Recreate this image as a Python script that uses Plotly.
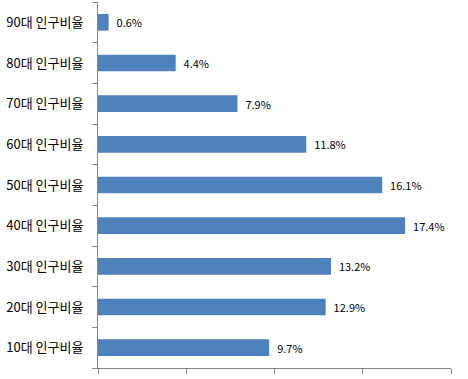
import plotly.graph_objects as go

categories = ["10대 인구비율", "20대 인구비율", "30대 인구비율", "40대 인구비율", "50대 인구비율",
              "60대 인구비율", "70대 인구비율", "80대 인구비율", "90대 인구비율"]
values = [9.7, 12.9, 13.2, 17.4, 16.1, 11.8, 7.9, 4.4, 0.6]

fig = go.Figure(go.Bar(
    x=values, y=categories, orientation="h",
    marker=dict(color="#4F81BD", line=dict(width=0)),
    width=0.41,
    texttemplate="  %{x:.1f}%", textposition="outside",
    textfont=dict(family="Noto Sans CJK KR", size=11, color="#000000"),
    cliponaxis=False,
))

fig.update_layout(
    width=468, height=379,
    margin=dict(l=98, r=17, t=2, b=11, autoexpand=False),
    paper_bgcolor="white", plot_bgcolor="white",
    showlegend=False,
    font=dict(family="Noto Sans CJK KR", size=12, color="#000000"),
    xaxis=dict(range=[0, 20], dtick=5, tick0=0, showticklabels=False, showgrid=False,
               zeroline=False, showline=True, linecolor="#868686", linewidth=1,
               ticks="outside", ticklen=5, tickcolor="#868686", automargin=False),
    yaxis=dict(type="category", showgrid=False, zeroline=False, showline=True,
               linecolor="#868686", linewidth=1, ticks="outside", ticklen=5,
               tickcolor="#868686", tickson="boundaries", ticklabelstandoff=11,
               automargin=False,
               tickfont=dict(family="Noto Sans CJK KR", size=13, color="#000000")),
    bargap=0.59,
)

fig.write_html("out.html", config={"displayModeBar": False},
               post_script="document.body.style.margin='0';document.body.style.overflow='hidden';")
